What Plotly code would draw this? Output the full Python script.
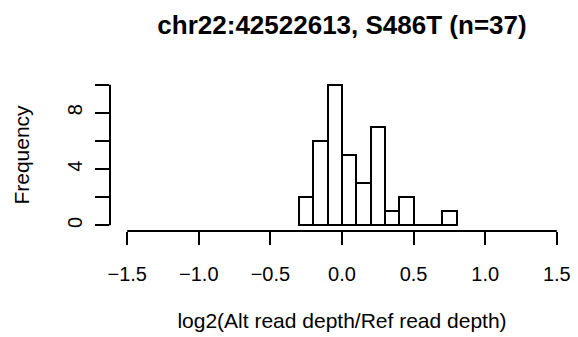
import plotly.graph_objects as go

# Histogram data (bin width 0.1)
bin_edges = [-0.3, -0.2, -0.1, 0.0, 0.1, 0.2, 0.3, 0.4, 0.5, 0.6, 0.7, 0.8]
counts = [2, 6, 10, 5, 3, 7, 1, 2, 0, 0, 1]
x_ticks = [-1.5, -1.0, -0.5, 0.0, 0.5, 1.0, 1.5]
x_tick_labels = ["\u22121.5", "\u22121.0", "\u22120.5", "0.0", "0.5", "1.0", "1.5"]
y_ticks = [0, 2, 4, 6, 8, 10]
y_tick_labels = ["0", "", "4", "", "8", ""]
title = "chr22:42522613, S486T (n=37)"
x_title = "log2(Alt read depth/Ref read depth)"
y_title = "Frequency"

centers = [(a + b) / 2 for a, b in zip(bin_edges[:-1], bin_edges[1:])]
widths = [b - a for a, b in zip(bin_edges[:-1], bin_edges[1:])]

FONT = "Liberation Sans, Arial, sans-serif"

fig = go.Figure()
fig.add_trace(go.Bar(
    x=centers, y=counts, width=widths,
    marker=dict(color="white", line=dict(color="black", width=2)),
    hoverinfo="x+y",
))

fig.update_layout(
    width=578, height=337,
    margin=dict(l=110, r=4, t=79, b=106),
    paper_bgcolor="white", plot_bgcolor="white",
    showlegend=False,
    font=dict(family=FONT, size=21, color="black"),
    title=dict(text="<b>" + title + "</b>", font=dict(family=FONT, size=26, color="black"),
               x=0.5, xref="paper", y=1 - 25 / 337, yref="container",
               xanchor="center", yanchor="middle"),
    xaxis=dict(range=[-1.62, 1.62], showgrid=False, zeroline=False, showline=False,
               tickmode="array", tickvals=x_ticks, ticktext=x_tick_labels,
               ticks="outside", ticklen=13, tickwidth=2, tickcolor="black",
               ticklabelstandoff=12, tickfont=dict(size=20),
               title=dict(text=x_title, standoff=29, font=dict(size=21))),
    yaxis=dict(range=[-0.4, 10.4], showgrid=False, zeroline=False, showline=False,
               tickmode="array", tickvals=y_ticks, ticktext=y_tick_labels,
               ticks="outside", ticklen=14, tickwidth=2, tickcolor="black",
               tickangle=-90, ticklabelstandoff=5, tickfont=dict(size=20),
               title=dict(text=y_title, standoff=28, font=dict(size=21))),
    bargap=0,
)

# Axis lines spanning only the tick range, as R draws them
fig.add_shape(type="line", xref="x", yref="paper", x0=x_ticks[0], x1=x_ticks[-1], y0=0, y1=0,
              line=dict(color="black", width=2))
fig.add_shape(type="line", xref="paper", yref="y", x0=0, x1=0, y0=y_ticks[0], y1=y_ticks[-1],
              line=dict(color="black", width=2))

fig.write_html("out.html")
